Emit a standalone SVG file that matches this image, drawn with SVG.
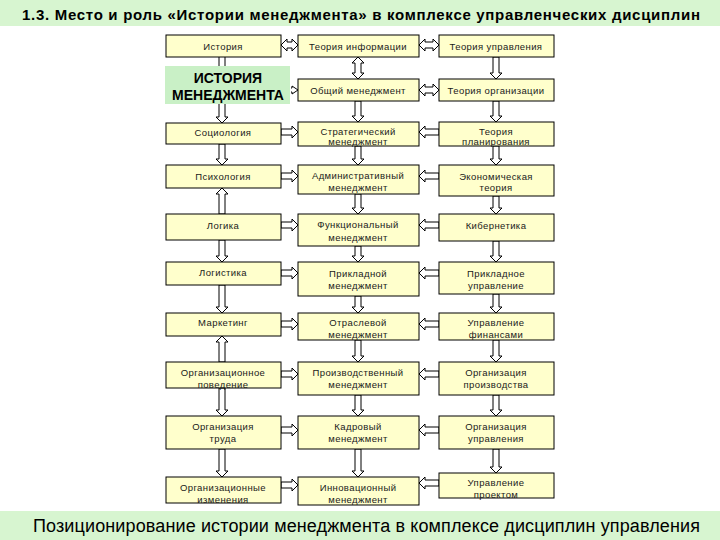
<svg xmlns="http://www.w3.org/2000/svg" width="720" height="540" viewBox="0 0 720 540">
<style>
.box{fill:#ffffcc;stroke:#000;stroke-width:1}
.t{font-family:"Liberation Sans",Arial,sans-serif;font-size:9.5px;letter-spacing:0.4px;text-anchor:middle;dominant-baseline:central;fill:#1a1a1a}
.arr{fill:#fff;stroke:#000;stroke-width:1;stroke-linejoin:miter}
.band{fill:#d7f5d0}
</style>
<rect x="0" y="0" width="720" height="540" fill="#fff"/>
<rect class="band" x="0" y="0" width="720" height="26"/>
<rect class="band" x="0" y="511" width="720" height="29"/>
<text x="361" y="14" font-family="Liberation Sans,Arial,sans-serif" font-size="15" font-weight="bold" text-anchor="middle" dominant-baseline="central" textLength="678" lengthAdjust="spacing">1.3. Место и роль «Истории менеджмента» в комплексе управленческих дисциплин</text>
<text x="366.5" y="526" font-family="Liberation Sans,Arial,sans-serif" font-size="18" text-anchor="middle" dominant-baseline="central" textLength="667" lengthAdjust="spacing">Позиционирование истории менеджмента в комплексе дисциплин управления</text>

<g id="connectors">
<path class="arr" d="M219,57 V70 M225,57 V70"/>
<path class="arr" d="M219,100 V117 H216 L222,123 L228,117 H225 V100 Z"/>
<path class="arr" d="M219,144 V159 H216 L222,165 L228,159 H225 V144 Z"/>
<path class="arr" d="M219,214 V194 H216 L222,188 L228,194 H225 V214 Z"/>
<path class="arr" d="M219,240 V256 H216 L222,262 L228,256 H225 V240 Z"/>
<path class="arr" d="M219,285 V307 H216 L222,313 L228,307 H225 V285 Z"/>
<path class="arr" d="M219,362 V342 H216 L222,336 L228,342 H225 V362 Z"/>
<path class="arr" d="M219,388 V410 H216 L222,416 L228,410 H225 V388 Z"/>
<path class="arr" d="M219,449 V471 H216 L222,477 L228,471 H225 V449 Z"/>
<path class="arr" d="M358,57 L364,63 H361 V73 H364 L358,79 L352,73 H355 V63 H352 Z"/>
<path class="arr" d="M355,101 V116 H352 L358,122 L364,116 H361 V101 Z"/>
<path class="arr" d="M355,146 V159 H352 L358,165 L364,159 H361 V146 Z"/>
<path class="arr" d="M355,194 V208 H352 L358,214 L364,208 H361 V194 Z"/>
<path class="arr" d="M355,246 V256 H352 L358,262 L364,256 H361 V246 Z"/>
<path class="arr" d="M355,296 V307 H352 L358,313 L364,307 H361 V296 Z"/>
<path class="arr" d="M355,340 V356 H352 L358,362 L364,356 H361 V340 Z"/>
<path class="arr" d="M355,395 V410 H352 L358,416 L364,410 H361 V395 Z"/>
<path class="arr" d="M355,449 V471 H352 L358,477 L364,471 H361 V449 Z"/>
<path class="arr" d="M493,57 V73 H490 L496,79 L502,73 H499 V57 Z"/>
<path class="arr" d="M493,101 V116 H490 L496,122 L502,116 H499 V101 Z"/>
<path class="arr" d="M493,146 V159 H490 L496,165 L502,159 H499 V146 Z"/>
<path class="arr" d="M493,196 V208 H490 L496,214 L502,208 H499 V196 Z"/>
<path class="arr" d="M493,241 V256 H490 L496,262 L502,256 H499 V241 Z"/>
<path class="arr" d="M493,294 V307 H490 L496,313 L502,307 H499 V294 Z"/>
<path class="arr" d="M493,340 V356 H490 L496,362 L502,356 H499 V340 Z"/>
<path class="arr" d="M493,395 V410 H490 L496,416 L502,410 H499 V395 Z"/>
<path class="arr" d="M493,449 V467 H490 L496,473 L502,467 H499 V449 Z"/>
<path class="arr" d="M281,45 L287,39 V42 H292 V39 L298,45 L292,51 V48 H287 V51 Z"/>
<path class="arr" d="M419,45 L425,39 V42 H433 V39 L439,45 L433,51 V48 H425 V51 Z"/>
<path class="arr" d="M419,90 L425,84 V87 H433 V84 L439,90 L433,96 V93 H425 V96 Z"/>
<path class="arr" d="M281,129 H292 V126 L298,132 L292,138 V135 H281 Z"/>
<path class="arr" d="M281,173 H292 V170 L298,176 L292,182 V179 H281 Z"/>
<path class="arr" d="M281,222 H292 V219 L298,225 L292,231 V228 H281 Z"/>
<path class="arr" d="M281,270 H292 V267 L298,273 L292,279 V276 H281 Z"/>
<path class="arr" d="M281,321 H292 V318 L298,324 L292,330 V327 H281 Z"/>
<path class="arr" d="M281,371 H292 V368 L298,374 L292,380 V377 H281 Z"/>
<path class="arr" d="M281,427 H292 V424 L298,430 L292,436 V433 H281 Z"/>
<path class="arr" d="M281,482 H292 V479 L298,485 L292,491 V488 H281 Z"/>
<path class="arr" d="M439,129 H425 V126 L419,132 L425,138 V135 H439 Z"/>
<path class="arr" d="M439,173 H425 V170 L419,176 L425,182 V179 H439 Z"/>
<path class="arr" d="M439,222 H425 V219 L419,225 L425,231 V228 H439 Z"/>
<path class="arr" d="M439,270 H425 V267 L419,273 L425,279 V276 H439 Z"/>
<path class="arr" d="M439,321 H425 V318 L419,324 L425,330 V327 H439 Z"/>
<path class="arr" d="M439,371 H425 V368 L419,374 L425,380 V377 H439 Z"/>
<path class="arr" d="M439,427 H425 V424 L419,430 L425,436 V433 H439 Z"/>
<path class="arr" d="M439,480 H425 V477 L419,483 L425,489 V486 H439 Z"/>
<path class="arr" d="M298,90 L292,86 V88 H291 M291,92 H292 V94 L298,90"/>
</g>

<g id="n-istoriya"><rect class="box" x="166" y="35" width="115" height="22"/><text class="t" x="223" y="46">История</text></g>
<g id="n-ti"><rect class="box" x="298" y="35" width="121" height="22"/><text class="t" x="358" y="46">Теория информации</text></g>
<g id="n-tu"><rect class="box" x="439" y="35" width="115" height="22"/><text class="t" x="496" y="46">Теория управления</text></g>

<g id="n-im"><rect x="165" y="66" width="125" height="38" fill="#c9f0c6"/>
<text x="228" y="78" font-family="Liberation Sans,Arial,sans-serif" font-size="14" font-weight="bold" text-anchor="middle" dominant-baseline="central">ИСТОРИЯ</text>
<text x="228" y="95" font-family="Liberation Sans,Arial,sans-serif" font-size="14" font-weight="bold" text-anchor="middle" dominant-baseline="central">МЕНЕДЖМЕНТА</text></g>
<g id="n-om"><rect class="box" x="298" y="79" width="121" height="22"/><text class="t" x="358" y="90">Общий менеджмент</text></g>
<g id="n-to"><rect class="box" x="439" y="79" width="115" height="22"/><text class="t" x="496" y="90">Теория организации</text></g>

<g id="n-soc"><rect class="box" x="166" y="123" width="115" height="21"/><text class="t" x="223" y="132">Социология</text></g>
<g id="n-strat"><rect class="box" x="298" y="122" width="121" height="24"/><text class="t" x="358" y="131">Стратегический</text><text class="t" x="358" y="141">менеджмент</text></g>
<g id="n-tp"><rect class="box" x="439" y="122" width="115" height="24"/><text class="t" x="496" y="131">Теория</text><text class="t" x="496" y="141">планирования</text></g>

<g id="n-psy"><rect class="box" x="166" y="165" width="115" height="23"/><text class="t" x="223" y="176">Психология</text></g>
<g id="n-adm"><rect class="box" x="298" y="165" width="121" height="29"/><text class="t" x="358" y="175">Административный</text><text class="t" x="358" y="187">менеджмент</text></g>
<g id="n-econ"><rect class="box" x="439" y="165" width="115" height="31"/><text class="t" x="496" y="176">Экономическая</text><text class="t" x="496" y="187">теория</text></g>

<g id="n-log"><rect class="box" x="166" y="214" width="115" height="26"/><text class="t" x="223" y="225">Логика</text></g>
<g id="n-func"><rect class="box" x="298" y="214" width="121" height="32"/><text class="t" x="358" y="224">Функциональный</text><text class="t" x="358" y="237">менеджмент</text></g>
<g id="n-kib"><rect class="box" x="439" y="214" width="115" height="27"/><text class="t" x="496" y="225">Кибернетика</text></g>

<g id="n-logist"><rect class="box" x="166" y="262" width="115" height="23"/><text class="t" x="223" y="272">Логистика</text></g>
<g id="n-prikm"><rect class="box" x="298" y="262" width="121" height="34"/><text class="t" x="358" y="273">Прикладной</text><text class="t" x="358" y="285">менеджмент</text></g>
<g id="n-priku"><rect class="box" x="439" y="262" width="115" height="32"/><text class="t" x="496" y="273">Прикладное</text><text class="t" x="496" y="285">управление</text></g>

<g id="n-mark"><rect class="box" x="166" y="313" width="115" height="23"/><text class="t" x="223" y="322">Маркетинг</text></g>
<g id="n-otr"><rect class="box" x="298" y="313" width="121" height="27"/><text class="t" x="358" y="322">Отраслевой</text><text class="t" x="358" y="334">менеджмент</text></g>
<g id="n-fin"><rect class="box" x="439" y="313" width="115" height="27"/><text class="t" x="496" y="322">Управление</text><text class="t" x="496" y="334">финансами</text></g>

<g id="n-orgpov"><rect class="box" x="166" y="362" width="115" height="26"/><text class="t" x="223" y="372">Организационное</text><text class="t" x="223" y="384">поведение</text></g>
<g id="n-proizm"><rect class="box" x="298" y="362" width="121" height="33"/><text class="t" x="358" y="372">Производственный</text><text class="t" x="358" y="384">менеджмент</text></g>
<g id="n-orgpr"><rect class="box" x="439" y="362" width="115" height="33"/><text class="t" x="496" y="372">Организация</text><text class="t" x="496" y="384">производства</text></g>

<g id="n-orgtr"><rect class="box" x="166" y="416" width="115" height="33"/><text class="t" x="223" y="426">Организация</text><text class="t" x="223" y="438">труда</text></g>
<g id="n-kadr"><rect class="box" x="298" y="416" width="121" height="33"/><text class="t" x="358" y="426">Кадровый</text><text class="t" x="358" y="438">менеджмент</text></g>
<g id="n-orgupr"><rect class="box" x="439" y="416" width="115" height="33"/><text class="t" x="496" y="426">Организация</text><text class="t" x="496" y="438">управления</text></g>

<g id="n-orgizm"><rect class="box" x="166" y="477" width="115" height="26"/><text class="t" x="223" y="487">Организационные</text><text class="t" x="223" y="499">изменения</text></g>
<g id="n-innov"><rect class="box" x="298" y="477" width="121" height="28"/><text class="t" x="358" y="487">Инновационный</text><text class="t" x="358" y="499">менеджмент</text></g>
<g id="n-proekt"><rect class="box" x="439" y="473" width="115" height="25"/><text class="t" x="496" y="482">Управление</text><text class="t" x="496" y="494">проектом</text></g>
</svg>
